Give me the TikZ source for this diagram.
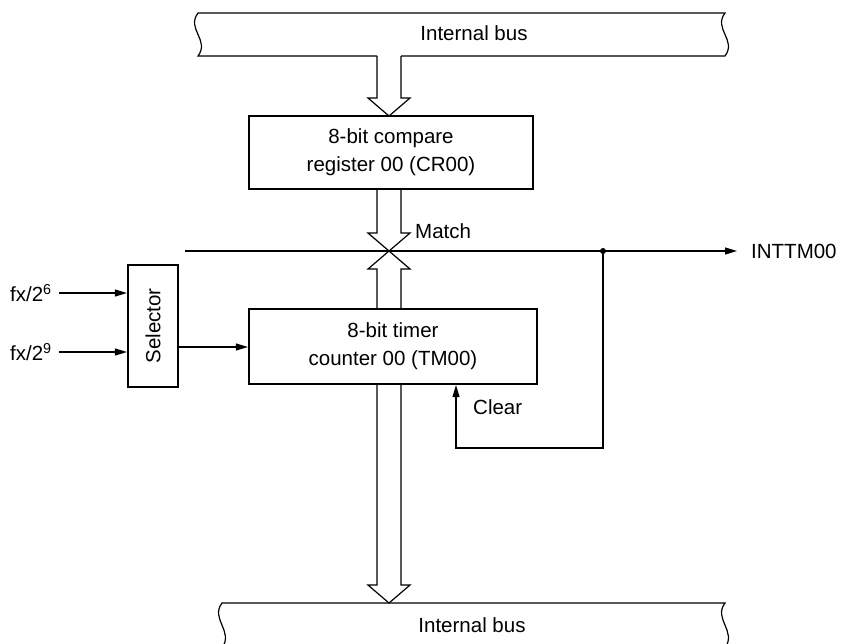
\documentclass[tikz,border=0pt]{standalone}
\usepackage{fontspec}
\setmainfont{Liberation Sans}
\usetikzlibrary{arrows.meta}
\begin{document}
\begin{tikzpicture}[x=1pt,y=-1pt,
  every node/.style={font=\fontsize{20.5}{28}\selectfont, inner sep=0pt},
  blk/.style={draw, line width=2.2pt, align=center},
  wire/.style={line width=1.2pt},
  arr/.style={wire, -{Triangle[length=12pt,width=7pt]}},
  hollow/.style={line width=1.2pt, line join=miter}]
\useasboundingbox (0,0) rectangle (841,643);
\clip (0,0) rectangle (841,643);
% buses
\draw[wire] (377,56) -- (198,56) .. controls (210,40) and (186,29) .. (198,13)
  -- (725,13) .. controls (713,29) and (737,40) .. (725,56) -- (401,56);
\node (bustop) at (474,33) {Internal bus};
\draw[wire] (222,648) .. controls (234,631) and (210,619) .. (222,603)
  -- (725,603) .. controls (713,619) and (737,631) .. (725,648);
\node (busbot) at (472,625) {Internal bus};
% blocks
\node[blk, minimum width=284pt, minimum height=73pt] (cr) at (391,152.5) {8-bit compare\\register 00 (CR00)};
\node[blk, minimum width=288pt, minimum height=75pt] (tm) at (393,346.5) {8-bit timer\\counter 00 (TM00)};
\node[blk, minimum width=50pt, minimum height=122pt] (sel) at (153,326) {\rotatebox{90}{Selector}};
% hollow bus arrows
\draw[hollow] (377,56) -- (377,98) -- (368,98) -- (389,116) -- (410,98) -- (401,98) -- (401,56);
\draw[hollow] (377,189) -- (377,233) -- (368,233) -- (389,251) -- (410,233) -- (401,233) -- (401,189);
\draw[hollow] (377,309) -- (377,269) -- (368,269) -- (389,251) -- (410,269) -- (401,269) -- (401,309);
\draw[hollow] (377,384) -- (377,585) -- (368,585) -- (389,603) -- (410,585) -- (401,585) -- (401,384);
\node[anchor=west] (match) at (415,231) {Match};
% match line
\coordinate (hl) at (185,251);
\node[anchor=west] (int) at (751,251) {INTTM00};
\draw[arr, shorten >=14pt] (hl) -- (int.west);
\coordinate (dot) at (603,251);
\fill (dot) circle (3pt);
\coordinate (clr) at (456,448);
\draw[arr] (dot) |- (clr) -- (clr |- tm.south);
\node[anchor=west] (cleartxt) at (473,407) {Clear};
% selector
\node[anchor=west] (f6) at (10,293) {fx/2\textsuperscript{6}};
\node[anchor=west] (f9) at (10,352) {fx/2\textsuperscript{9}};
\draw[arr] (59,293) -- (sel.west |- 59,293);
\draw[arr] (59,352) -- (sel.west |- 59,352);
\draw[arr] (sel.east |- 0,347) -- (tm.west |- 0,347);
\end{tikzpicture}
\end{document}
